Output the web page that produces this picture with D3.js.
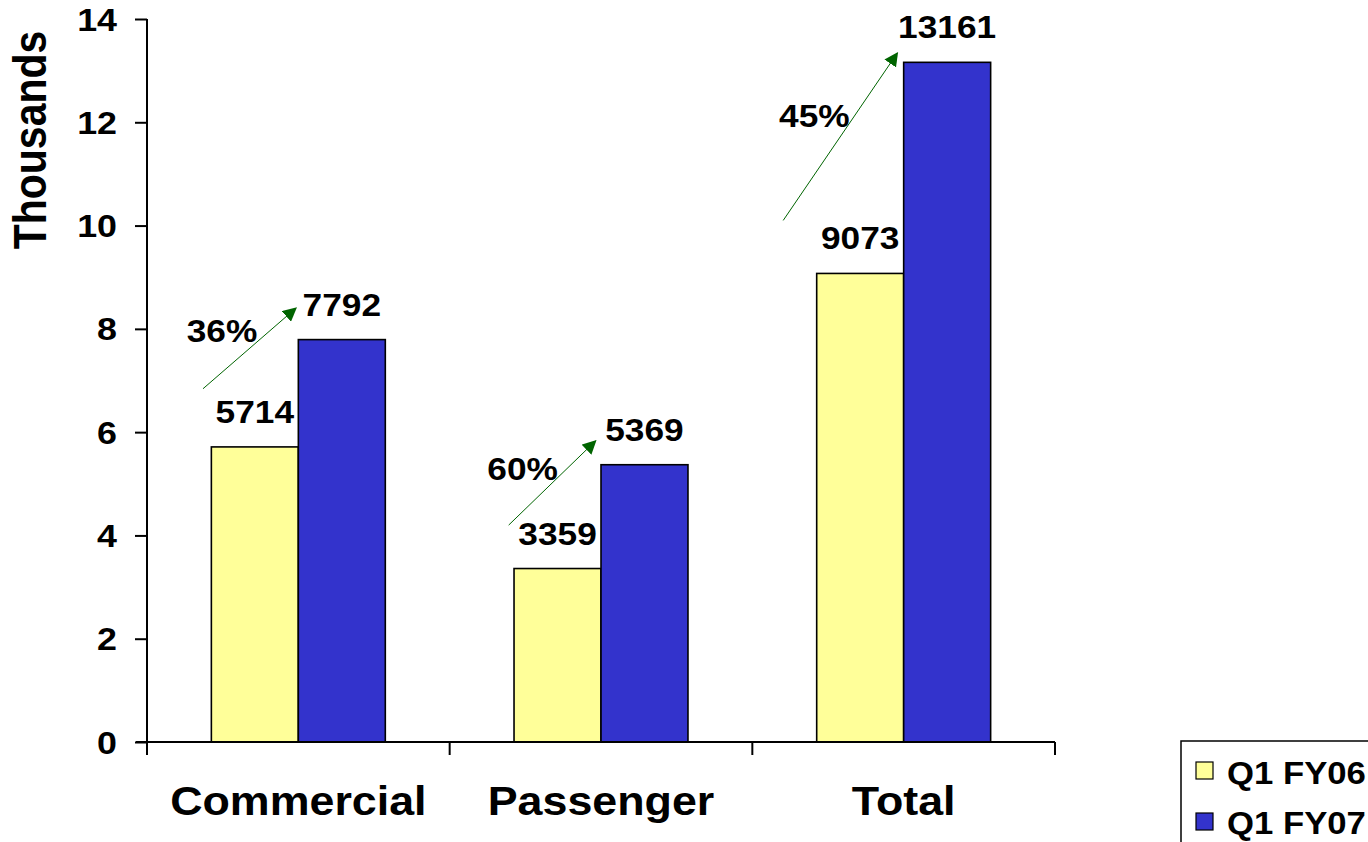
<!DOCTYPE html>
<html>
<head>
<meta charset="utf-8">
<script src="https://cdn.jsdelivr.net/npm/d3@7"></script>
<style>
  body { margin: 0; background: #fff; }
  text { font-family: "Liberation Sans", Arial, sans-serif; font-weight: bold; fill: #000; }
</style>
</head>
<body>
<div id="chart"></div>
<script>
// categories and series
const categories = ["Commercial", "Passenger", "Total"]
const seriesNames = ["Q1 FY06", "Q1 FY07"]
const fy06 = [5714, 3359, 9073]
const fy07 = [7792, 5369, 13161]
const growthLabels = ["36%", "60%", "45%"]
const yTicks = [0, 2, 4, 6, 8, 10, 12, 14]

// arrow annotations: [band fraction, thousands] for start / end, label spot
const arrowStart = [[0.185, 6.84], [0.195, 4.2], [0.102, 10.1]]
const arrowEnd = [[0.492, 8.4], [0.482, 5.83], [0.479, 13.34]]
const labelAt = [[0.248, 7.95], [0.241, 5.28], [0.205, 12.13]]

const colors = ["#FFFF99", "#3333CC"]
const sx = 1.12  // glyphs in the original are a bit wider than normal

var svg = d3.select("#chart").append("svg")
    .attr("width", 1368)
    .attr("height", 842)

var x0 = d3.scaleBand()
    .domain(categories)
    .range([147, 1055])

var x1 = d3.scaleBand()
    .domain(seriesNames)
    .range([0, x0.bandwidth()])
    .paddingInner(0)
    .paddingOuter(0.74)

var y = d3.scaleLinear()
    .domain([0, 14])
    .range([742, 19])

function stretchedText(g, x, yy, str, size, anchor) {
    return g.append("text")
        .attr("transform", "translate(" + x + "," + yy + ") scale(" + sx + ",1)")
        .attr("text-anchor", anchor || "middle")
        .style("font-size", size + "px")
        .text(str)
}

// bars
let rows = categories.map((c, i) => ({ cat: c, vals: [fy06[i], fy07[i]] }))
rows.forEach(r => {
    r.vals.forEach((v, j) => {
        svg.append("rect")
            .attr("x", x0(r.cat) + x1(seriesNames[j]))
            .attr("y", y(v / 1000))
            .attr("width", x1.bandwidth())
            .attr("height", y(0) - y(v / 1000))
            .style("fill", colors[j])
            .style("stroke", "#000")
            .style("stroke-width", 1.6)
        stretchedText(svg, x0(r.cat) + x1(seriesNames[j]) + x1.bandwidth() / 2,
            y(v / 1000) - 24, v, 31.5)
    })
})

// y axis
var yAxis = svg.append("g")
    .attr("transform", "translate(147,0)")
    .call(d3.axisLeft(y).tickValues(yTicks).tickSize(12).tickFormat(""))
yAxis.select(".domain").attr("d", "M0," + y(14) + "V" + y(0)).style("stroke-width", 2)
yAxis.selectAll(".tick line").style("stroke-width", 2)
yTicks.forEach(t => stretchedText(svg, 117, y(t) + 11.5, t, 32, "end"))

// x axis
var xAxis = svg.append("g")
    .attr("transform", "translate(0," + y(0) + ")")
xAxis.append("line")
    .attr("x1", 136).attr("x2", 1055)
    .style("stroke", "#000").style("stroke-width", 2)
const xEdges = categories.map(c => x0(c)).concat([x0.range()[1]])
xAxis.selectAll(".xt").data(xEdges).enter().append("line")
    .attr("x1", d => d).attr("x2", d => d)
    .attr("y1", 0).attr("y2", 13)
    .style("stroke", "#000").style("stroke-width", 2)
categories.forEach(c => stretchedText(svg, x0(c) + x0.bandwidth() / 2, 815, c, 40))

// axis title
svg.append("text")
    .attr("transform", "translate(46,140) rotate(-90) scale(1," + sx + ")")
    .attr("text-anchor", "middle")
    .style("font-size", "41px")
    .text("Thousands")

// growth arrows
svg.append("defs").append("marker")
    .attr("id", "head")
    .attr("viewBox", "0 0 10 10")
    .attr("refX", 9).attr("refY", 5)
    .attr("markerWidth", 14).attr("markerHeight", 14)
    .attr("markerUnits", "userSpaceOnUse")
    .attr("orient", "auto")
    .append("path")
    .attr("d", "M0,0L10,5L0,10Z")
    .style("fill", "#006400")

categories.forEach((c, i) => {
    let bx = x0(c), bw = x0.bandwidth()
    svg.append("line")
        .attr("x1", bx + arrowStart[i][0] * bw).attr("y1", y(arrowStart[i][1]))
        .attr("x2", bx + arrowEnd[i][0] * bw).attr("y2", y(arrowEnd[i][1]))
        .style("stroke", "#006400").style("stroke-width", 1)
        .attr("marker-end", "url(#head)")
    stretchedText(svg, bx + labelAt[i][0] * bw, y(labelAt[i][1]) + 11, growthLabels[i], 31.5)
})

// legend
var legend = svg.append("g")
legend.append("rect")
    .attr("x", 1181).attr("y", 741)
    .attr("width", 200).attr("height", 120)
    .style("fill", "#fff").style("stroke", "#000").style("stroke-width", 1.5)
seriesNames.forEach((s, j) => {
    legend.append("rect")
        .attr("x", 1196).attr("y", 762 + j * 51)
        .attr("width", 17).attr("height", 17)
        .style("fill", colors[j]).style("stroke", "#000").style("stroke-width", 1.2)
    stretchedText(legend, 1227, 784 + j * 50, s, 31, "start")
})
</script>
</body>
</html>
